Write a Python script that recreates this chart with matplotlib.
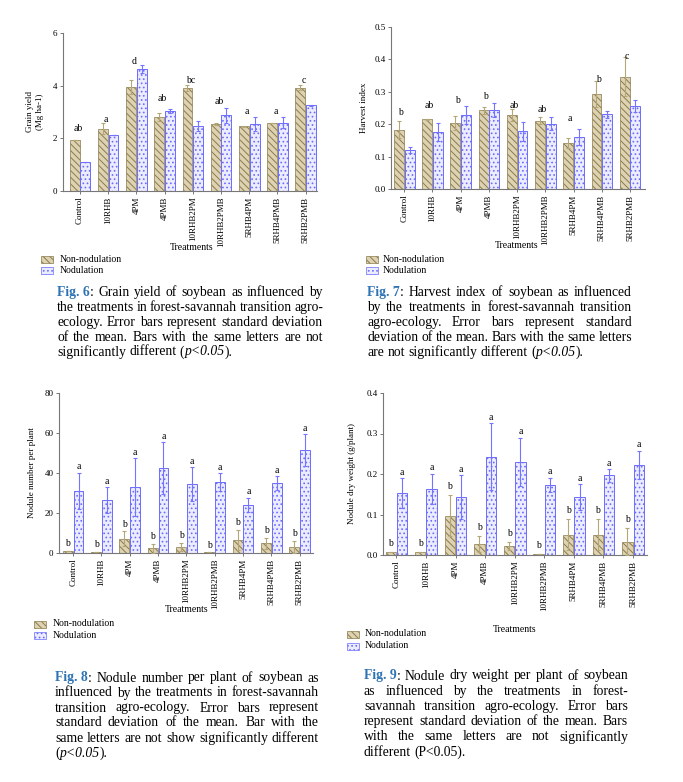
import matplotlib
matplotlib.use("Agg")
import matplotlib.pyplot as plt
from matplotlib.patches import Rectangle
import numpy as np

plt.rcParams['font.family'] = ['Liberation Serif', 'DejaVu Serif']
plt.rcParams['hatch.linewidth'] = 0.7

W, H = 683, 782

treatments = ["Control", "10RHB", "4PM", "4PMB", "10RHB2PM", "10RHB2PMB",
              "5RHB4PM", "5RHB4PMB", "5RHB2PMB"]

# Fig 6 - grain yield (Mg ha-1)
gy_non = [1.92, 2.37, 3.95, 2.80, 3.90, 2.55, 2.45, 2.57, 3.92]
gy_non_err = [0.0, 0.22, 0.28, 0.16, 0.12, 0.03, 0.02, 0.0, 0.10]
gy_nod = [1.12, 2.13, 4.65, 3.05, 2.47, 2.87, 2.55, 2.60, 3.25]
gy_nod_err = [0.0, 0.0, 0.15, 0.07, 0.20, 0.27, 0.27, 0.20, 0.03]
gy_letters = ["ab", "a", "d", "ab", "bc", "ab", "a", "a", "c"]
gy_letter_y = [2.37, 2.72, 4.91, 3.50, 4.20, 3.40, 3.03, 3.03, 4.20]

# Fig 7 - harvest index
hi_non = [0.183, 0.215, 0.204, 0.243, 0.228, 0.211, 0.143, 0.294, 0.347]
hi_non_err = [0.027, 0.002, 0.022, 0.010, 0.018, 0.010, 0.015, 0.040, 0.060]
hi_nod = [0.120, 0.177, 0.228, 0.243, 0.178, 0.201, 0.160, 0.230, 0.257]
hi_nod_err = [0.010, 0.028, 0.028, 0.022, 0.030, 0.020, 0.025, 0.012, 0.018]
hi_letters = ["b", "ab", "b", "b", "ab", "ab", "a", "b", "c"]
hi_letter_y = [0.237, 0.257, 0.273, 0.286, 0.257, 0.245, 0.219, 0.337, 0.410]

# Fig 8 - nodule number per plant
nn_non = [1.2, 0.7, 7.2, 2.4, 3.2, 0.3, 6.7, 4.8, 3.2]
nn_non_err = [0.0, 0.0, 3.7, 2.2, 2.0, 0.0, 5.0, 2.8, 3.0]
nn_nod = [31.2, 26.5, 33.0, 42.3, 34.5, 35.6, 24.2, 34.8, 51.5]
nn_nod_err = [9.0, 6.5, 14.5, 13.0, 8.5, 4.5, 3.5, 3.5, 8.0]

# Fig 9 - nodule dry weight (g/plant)
nd_non = [0.007, 0.007, 0.097, 0.027, 0.023, 0.003, 0.050, 0.050, 0.033]
nd_non_err = [0.0, 0.0, 0.050, 0.020, 0.010, 0.0, 0.038, 0.038, 0.033]
nd_nod = [0.153, 0.163, 0.143, 0.243, 0.230, 0.173, 0.143, 0.197, 0.223]
nd_nod_err = [0.037, 0.038, 0.055, 0.083, 0.060, 0.018, 0.032, 0.016, 0.035]

NON_FACE, NON_EDGE, NON_ERR = "#ddd3b3", "#8a7a4c", "#b5a677"
NOD_FACE, NOD_EDGE, NOD_ERR = "#ececff", "#6c6cff", "#7474ff"

fig = plt.figure(figsize=(W / 100, H / 100), dpi=100)


def px_axes(l, t, r, b):
    return fig.add_axes([l / W, 1 - b / H, (r - l) / W, (b - t) / H])


def draw_panel(ax, non, non_err, nod, nod_err, ylim, yticks, fmt, xlim):
    x = np.arange(len(treatments))
    w = 0.35
    ax.bar(x - 0.19, non, w, color=NON_FACE, edgecolor=NON_EDGE, hatch="\\\\\\\\\\",
           linewidth=0.5, zorder=2)
    ax.bar(x + 0.19, nod, w, color=NOD_FACE, edgecolor=NOD_EDGE, hatch="....",
           linewidth=0.7, zorder=2)
    ax.errorbar(x - 0.19, non, yerr=non_err, fmt="none", ecolor=NON_ERR,
                elinewidth=0.8, capsize=1.5, capthick=0.8, zorder=3)
    ax.errorbar(x + 0.19, nod, yerr=nod_err, fmt="none", ecolor=NOD_ERR,
                elinewidth=0.8, capsize=1.5, capthick=0.8, zorder=3)
    ax.set_xlim(*xlim)
    ax.set_ylim(*ylim)
    ax.set_yticks(yticks)
    ax.set_yticklabels([fmt.format(v) for v in yticks], fontsize=6.5)
    ax.set_xticks(x)
    ax.set_xticklabels(treatments, rotation=90, fontsize=6.5)
    for s in ["top", "right"]:
        ax.spines[s].set_visible(False)
    for s in ["left", "bottom"]:
        ax.spines[s].set_color("#777777")
        ax.spines[s].set_linewidth(0.8)
    ax.tick_params(length=2.5, width=0.7, color="#777777", pad=1.5)
    ax.patch.set_alpha(0)
    return x


def legend_at(x, y1, y2, off=18):
    for yy, fc, ec, h, lab in [(y1, NON_FACE, NON_EDGE, "\\\\\\\\\\", "Non-nodulation"),
                               (y2, NOD_FACE, NOD_EDGE, "....", "Nodulation")]:
        r = Rectangle((x / W, 1 - (yy + 3.5) / H), 12 / W, 7 / H, transform=fig.transFigure,
                      facecolor=fc, edgecolor=ec, hatch=h, linewidth=0.5)
        fig.patches.append(r)
        fig.text((x + off) / W, 1 - yy / H, lab, fontsize=7, va="center", ha="left")


# ---- Fig 6
ax6 = px_axes(63, 33, 317, 191)
x = draw_panel(ax6, gy_non, gy_non_err, gy_nod, gy_nod_err, (0, 6), [0, 2, 4, 6], "{:d}",
               (-0.6, 8.4))
for i in range(len(x)):
    ax6.text(x[i] - 0.07, gy_letter_y[i], gy_letters[i], fontsize=7, ha="center", va="center")
fig.text(35 / W, 1 - 112 / H, "Grain yield\n(Mg ha-1)", rotation=90, fontsize=6.5,
         ha="center", va="center", multialignment="center")
fig.text(192 / W, 1 - 247 / H, "Treatments", fontsize=7, ha="center", va="center")
legend_at(41, 259, 270, 19)

# ---- Fig 7
ax7 = px_axes(391, 27, 645, 189)
x = draw_panel(ax7, hi_non, hi_non_err, hi_nod, hi_nod_err, (0, 0.5),
               [0.0, 0.1, 0.2, 0.3, 0.4, 0.5], "{:.1f}", (-0.47, 8.53))
for i in range(len(x)):
    ax7.text(x[i] - 0.12, hi_letter_y[i], hi_letters[i], fontsize=7, ha="center", va="center")
fig.text(364 / W, 1 - 108 / H, "Harvest index", rotation=90, fontsize=6.5,
         ha="center", va="center")
fig.text(517 / W, 1 - 246 / H, "Treatments", fontsize=7, ha="center", va="center")
legend_at(366, 259, 270, 17)

# ---- Fig 8
ax8 = px_axes(59, 393, 313, 553)
x = draw_panel(ax8, nn_non, nn_non_err, nn_nod, nn_nod_err, (0, 80),
               [0, 20, 40, 60, 80], "{:d}", (-0.5, 8.47))
for i in range(len(x)):
    ax8.text(x[i] - 0.19, nn_non[i] + nn_non_err[i] + 1.3, "b", fontsize=7, ha="center",
             va="bottom")
    ax8.text(x[i] + 0.19, nn_nod[i] + nn_nod_err[i] + 0.6, "a", fontsize=7, ha="center",
             va="bottom")
fig.text(32 / W, 1 - 473 / H, "Nodule number per plant", rotation=90, fontsize=6.5,
         ha="center", va="center")
fig.text(187 / W, 1 - 610 / H, "Treatments", fontsize=7, ha="center", va="center")
legend_at(34, 624, 635, 19)

# ---- Fig 9
ax9 = px_axes(383, 393, 647, 555)
x = draw_panel(ax9, nd_non, nd_non_err, nd_nod, nd_nod_err, (0, 0.4),
               [0.0, 0.1, 0.2, 0.3, 0.4], "{:.1f}", (-0.45, 8.47))
for i in range(len(x)):
    ax9.text(x[i] - 0.19, nd_non[i] + nd_non_err[i] + 0.01, "b", fontsize=7, ha="center",
             va="bottom")
    ax9.text(x[i] + 0.19, nd_nod[i] + nd_nod_err[i] + 0.003, "a", fontsize=7, ha="center",
             va="bottom")
fig.text(352 / W, 1 - 474 / H, "Nodule dry weight (g/plant)", rotation=90, fontsize=6.5,
         ha="center", va="center")
fig.text(515 / W, 1 - 629 / H, "Treatments", fontsize=7, ha="center", va="center")
legend_at(347, 634, 646, 18)

# ---- captions, justified word by word
NB = "\u00a0"
cap6 = ["*Fig." + NB + "6*: Grain yield of soybean as influenced by",
        "the treatments in forest-savannah transition agro-",
        "ecology. Error bars represent standard deviation",
        "of the mean. Bars with the same letters are not",
        "significantly different (_p<0.05_)."]
cap7 = ["*Fig." + NB + "7*: Harvest index of soybean as influenced",
        "by the treatments in forest-savannah transition",
        "agro-ecology. Error bars represent standard",
        "deviation of the mean. Bars with the same letters",
        "are not significantly different (_p<0.05_)."]
cap8 = ["*Fig." + NB + "8*: Nodule number per plant of soybean as",
        "influenced by the treatments in forest-savannah",
        "transition agro-ecology. Error bars represent",
        "standard deviation of the mean. Bar with the",
        "same letters are not show significantly different",
        "(_p<0.05_)."]
cap9 = ["*Fig." + NB + "9*: Nodule dry weight per plant of soybean",
        "as influenced by the treatments in forest-",
        "savannah transition agro-ecology. Error bars",
        "represent standard deviation of the mean. Bars",
        "with the same letters are not significantly",
        "different (P<0.05)."]

renderer = fig.canvas.get_renderer()
CAP_FS = 9.8


def runs_of(word):
    # split a word into (text, style) runs: *..* bold blue, _.._ italic
    out, style, buf = [], "n", ""
    for ch in word:
        if ch in "*_":
            if buf:
                out.append((buf, style))
            buf = ""
            mark = "b" if ch == "*" else "i"
            style = mark if style != mark else "n"
        else:
            buf += ch
    if buf:
        out.append((buf, style))
    return out


def make_text(s, style, xp, yp):
    kw = dict(fontsize=CAP_FS, va="center", ha="left")
    if style == "b":
        kw.update(color="#2e74b5", fontweight="bold")
    elif style == "i":
        kw.update(style="italic")
    return fig.text(xp / W, 1 - yp / H, s, **kw)


def caption(lines, x0, x1, y0, dy):
    t1 = make_text("a b", "n", 0, 0)
    t2 = make_text("ab", "n", 0, 0)
    sw = t1.get_window_extent(renderer).width - t2.get_window_extent(renderer).width
    t1.remove()
    t2.remove()
    for k, line in enumerate(lines):
        yp = y0 + k * dy
        words = line.split(" ")
        objs, widths = [], []
        for wd in words:
            parts, wsum = [], 0
            for s, st in runs_of(wd):
                t = make_text(s, st, 0, yp)
                ww = t.get_window_extent(renderer).width
                parts.append((t, ww))
                wsum += ww
            objs.append(parts)
            widths.append(wsum)
        if k == len(lines) - 1 or len(words) < 2:
            gap = sw
        else:
            gap = max((x1 - x0 - sum(widths)) / (len(words) - 1), sw * 0.6)
        xp = x0
        for parts, wsum in zip(objs, widths):
            xx = xp
            for t, ww in parts:
                t.set_x(xx / W)
                xx += ww
            xp += wsum + gap


caption(cap6, 57, 323, 293, 14.7)
caption(cap7, 367, 632, 293, 14.9)
caption(cap8, 55, 319, 678, 15.0)
caption(cap9, 364, 628, 676, 15.2)

fig.savefig("out.png", dpi=100)
